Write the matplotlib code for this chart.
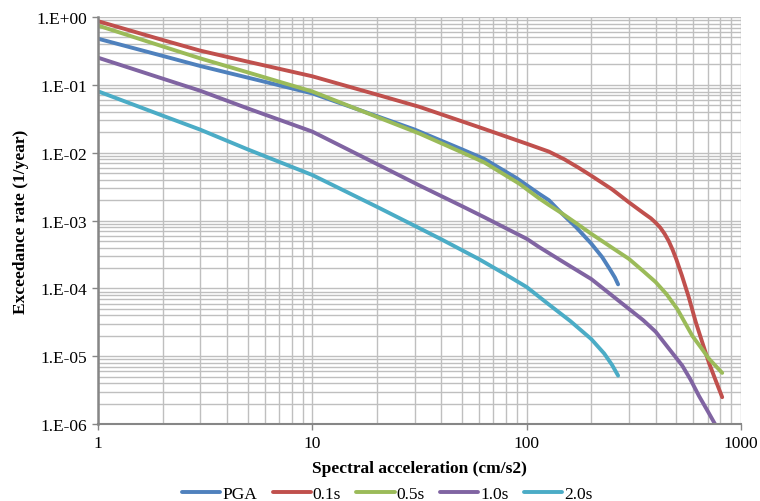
import numpy as np
import matplotlib
matplotlib.use('Agg')
import matplotlib.pyplot as plt
from matplotlib.ticker import FixedLocator, LogLocator, NullFormatter

plt.rcParams['font.family'] = ['Liberation Serif', 'DejaVu Serif']

# hazard curves
pga_x = [1, 2, 3, 5, 10, 20, 30, 50, 63.5, 90, 114, 127, 145, 170, 200, 225, 245, 258, 267]
pga_y = [0.48, 0.268, 0.19, 0.128, 0.075, 0.0347, 0.022, 0.0112, 0.0081, 0.0042,
         0.0025, 0.0020, 0.0013, 8.0e-4, 4.6e-4, 2.9e-4, 1.9e-4, 1.45e-4, 1.15e-4]

s01_x = [1, 2, 3, 5, 10, 20, 31.6, 50, 63.5, 100, 127, 150, 175, 200, 250, 300, 350,
         380, 400, 420, 440, 460, 480, 500, 530, 570, 615, 660, 709, 760, 817]
s01_y = [0.87, 0.46, 0.32, 0.22, 0.134, 0.072, 0.0475, 0.029, 0.0224, 0.0136, 0.0104,
         0.0080, 0.0060, 0.0046, 0.0029, 0.00186, 0.0013, 0.00108, 9.3e-4, 7.9e-4,
         6.4e-4, 5.0e-4, 3.7e-4, 2.65e-4, 1.55e-4, 7.5e-5, 3.2e-5, 1.6e-5, 8.0e-6,
         4.5e-6, 2.5e-6]

s05_x = [1, 2, 3, 5, 10, 20, 31.6, 50, 63.5, 92.4, 114, 127, 145, 170, 200, 250, 300,
         350, 400, 450, 504, 593, 650, 709, 817]
s05_y = [0.75, 0.37, 0.246, 0.153, 0.08, 0.0338, 0.0192, 0.0101, 0.0072, 0.0035,
         0.00214, 0.0017, 0.0013, 9.2e-4, 6.4e-4, 4.0e-4, 2.73e-4, 1.8e-4, 1.24e-4,
         8.2e-5, 5.0e-5, 2.0e-5, 1.35e-5, 9.2e-6, 5.7e-6]

s10_x = [1, 2, 3, 5, 10, 20, 31.6, 50, 63.5, 100, 114, 150, 200, 250, 300, 350, 400,
         470, 532, 580, 637, 700, 757, 780]
s10_y = [0.252, 0.124, 0.082, 0.045, 0.0205, 0.00683, 0.0033, 0.00163, 0.00112, 5.4e-4,
         4.1e-4, 2.4e-4, 1.38e-4, 7.9e-5, 5.0e-5, 3.4e-5, 2.3e-5, 1.2e-5, 7.3e-6,
         4.6e-6, 2.6e-6, 1.55e-6, 1.0e-6, 8.3e-7]

s20_x = [1, 2, 3, 5, 10, 20, 30, 40, 60, 80, 100, 127, 160, 200, 230, 250, 267]
s20_y = [0.0805, 0.0353, 0.0219, 0.0112, 0.0047, 0.0016, 8.4e-4, 5.3e-4, 2.7e-4,
         1.6e-4, 1.05e-4, 5.8e-5, 3.3e-5, 1.8e-5, 1.1e-5, 7.5e-6, 5.2e-6]

names = ['PGA', '0.1s', '0.5s', '1.0s', '2.0s']
colors = ['#4F81BD', '#C0504D', '#9BBB59', '#8064A2', '#4BACC6']
x_ticks = [1, 10, 100, 1000]
y_ticks = [1e0, 1e-1, 1e-2, 1e-3, 1e-4, 1e-5, 1e-6]
y_labels = ['1.E+00', '1.E-01', '1.E-02', '1.E-03', '1.E-04', '1.E-05', '1.E-06']

fig = plt.figure(figsize=(7.6, 5.02), dpi=100)
ax = fig.add_axes([0.129, 0.153, 0.846, 0.811])

series = [(pga_x, pga_y), (s01_x, s01_y), (s05_x, s05_y), (s10_x, s10_y), (s20_x, s20_y)]
for (xs, ys), nm, c in zip(series, names, colors):
    ax.plot(xs, ys, color=c, lw=2.8, label=nm, solid_capstyle='round',
            solid_joinstyle='round')

ax.set_xscale('log')
ax.set_yscale('log')
ax.set_xlim(1, 1000)
ax.set_ylim(1e-6, 1)

ax.xaxis.set_major_locator(FixedLocator(x_ticks))
ax.set_xticklabels([str(v) for v in x_ticks])
ax.xaxis.set_minor_locator(LogLocator(base=10, subs=np.arange(2, 10), numticks=20))
ax.xaxis.set_minor_formatter(NullFormatter())
ax.yaxis.set_major_locator(FixedLocator(y_ticks))
ax.set_yticklabels(y_labels)
ax.yaxis.set_minor_locator(LogLocator(base=10, subs=np.arange(2, 10), numticks=20))
ax.yaxis.set_minor_formatter(NullFormatter())

ax.grid(True, which='both', color='#BFBFBF', lw=1.0)
ax.set_axisbelow(True)
ax.tick_params(which='major', length=4, width=1, color='#868686', labelsize=12.5, pad=4)
ax.tick_params(which='minor', length=0)

for s in ['top', 'right']:
    ax.spines[s].set_visible(False)
ax.spines['left'].set_color('#868686')
ax.spines['left'].set_linewidth(1.8)
ax.spines['bottom'].set_color('#868686')
ax.spines['bottom'].set_linewidth(1.5)

ax.set_xlabel('Spectral acceleration (cm/s2)', fontsize=12.5, fontweight='bold', labelpad=6)
ax.set_ylabel('Exceedance rate (1/year)', fontsize=12.5, fontweight='bold', labelpad=5)

ax.legend(loc='upper center', bbox_to_anchor=(0.45, -0.135), ncol=5, frameon=False,
          fontsize=12.5, handlelength=2.2, handletextpad=0.1, columnspacing=0.9,
          borderaxespad=0)

fig.savefig('out.png', dpi=100)
